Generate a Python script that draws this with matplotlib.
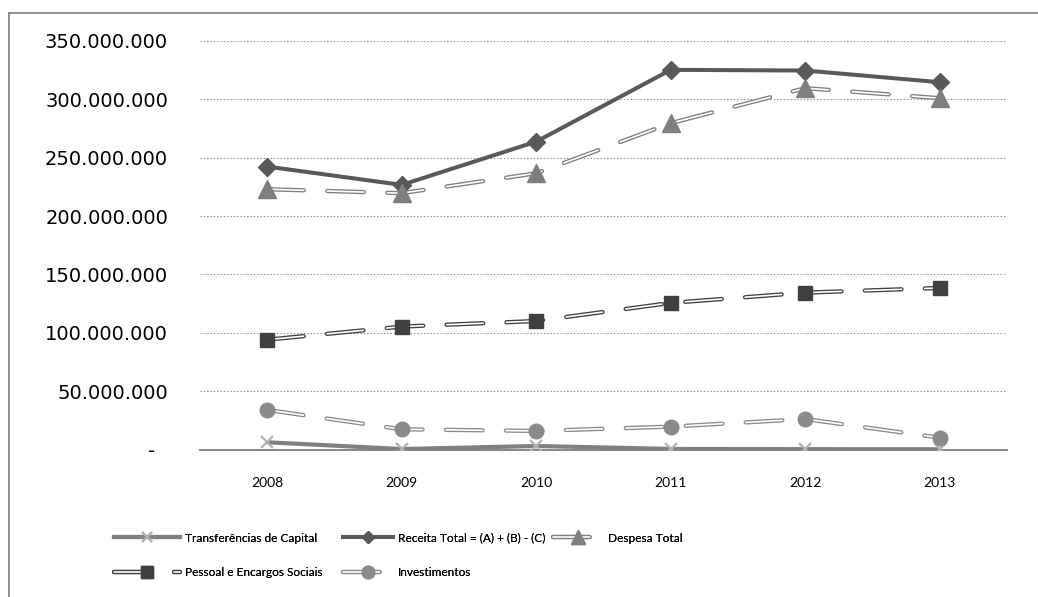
import matplotlib
matplotlib.use("Agg")
import matplotlib.pyplot as plt
from matplotlib.lines import Line2D
from matplotlib.legend_handler import HandlerTuple
from matplotlib import font_manager as fm

# ---------------- data ----------------
years = ["2008", "2009", "2010", "2011", "2012", "2013"]
transferencias = [6.2e6, 0.4e6, 3.0e6, 0.5e6, 0.3e6, 0.2e6]
receita = [242.4e6, 226.7e6, 263.8e6, 325.3e6, 324.7e6, 314.7e6]
despesa = [223.0e6, 219.6e6, 236.7e6, 279.6e6, 309.6e6, 301.0e6]
pessoal = [94.1e6, 105.3e6, 110.1e6, 125.6e6, 134.4e6, 138.4e6]
investimentos = [33.9e6, 17.3e6, 15.9e6, 19.6e6, 26.1e6, 10.1e6]
yticks = [0, 50e6, 100e6, 150e6, 200e6, 250e6, 300e6, 350e6]

labels = ["Transferências de Capital", "Receita Total = (A) + (B) - (C)",
          "Despesa Total", "Pessoal e Encargos Sociais", "Investimentos"]


def pick_font(cands):
    for c in cands:
        try:
            fm.findfont(fm.FontProperties(family=c), fallback_to_default=False)
            return c
        except Exception:
            pass
    return "DejaVu Sans"


narrow = pick_font(["Liberation Sans Narrow", "Lato", "Liberation Sans"])

plt.rcParams['lines.scale_dashes'] = False
plt.rcParams['font.family'] = ['DejaVu Sans']

W, H = 1038, 597
fig = plt.figure(figsize=(W / 100, H / 100), dpi=100)
ax = fig.add_axes([200 / W, 1 - 449.5 / H, 807 / W, (449.5 - 41) / H])

x = list(range(len(years)))
DASH = (0, (26.4, 16.8))

C_TR, C_TRM = '#808080', '#b3b3b3'
C_RE = '#595959'
C_DE = '#7f7f7f'
C_PE = '#404040'
C_IN = '#8a8a8a'


def double_line(vals, color, marker, ms, mcolor):
    ax.plot(x, vals, color=color, lw=3.1, linestyle=DASH,
            dash_capstyle='round', zorder=3)
    ax.plot(x, vals, color='white', lw=1.2, linestyle=DASH,
            dash_capstyle='round', zorder=3.1)
    ax.plot(x, vals, linestyle='none', marker=marker, ms=ms,
            color=mcolor, mec=mcolor, zorder=4)


# Transferências de Capital
ax.plot(x, transferencias, color=C_TR, lw=3.0, zorder=3, solid_joinstyle='round')
ax.plot(x, transferencias, linestyle='none', marker='x', ms=8, mew=1.6,
        color=C_TRM, zorder=4)
# Receita Total
ax.plot(x, receita, color=C_RE, lw=2.9, zorder=3.5,
        marker='D', ms=9, mfc=C_RE, mec=C_RE)
# Despesa Total
double_line(despesa, C_DE, '^', 13.5, C_DE)
# Pessoal
double_line(pessoal, C_PE, 's', 10, C_PE)
# Investimentos
double_line(investimentos, C_IN, 'o', 10.5, C_IN)

ax.set_xlim(-0.5, len(years) - 0.5)
ax.set_ylim(0, 350e6)
ax.set_xticks(x)
ax.set_xticklabels(years, fontfamily=narrow, fontsize=10)
ax.set_yticks(yticks)
ylabels = [("-  " if v == 0 else f"{int(v):,}".replace(",", ".")) for v in yticks]
ax.set_yticklabels(ylabels, fontfamily='DejaVu Sans', fontsize=14)
ax.tick_params(axis='y', length=0, pad=23)
ax.tick_params(axis='x', length=0, pad=20)

for s in ['left', 'right', 'top']:
    ax.spines[s].set_visible(False)
ax.spines['bottom'].set_color('#868686')
ax.spines['bottom'].set_linewidth(1.4)
ax.spines['bottom'].set_zorder(2.5)
ax.yaxis.grid(True, linestyle=(0, (1, 1.4)), color='#8c8c8c', lw=0.8)
ax.set_axisbelow(True)


# ---------------- legend ----------------
def dbl_handle(color, marker, ms):
    o = Line2D([], [], color=color, lw=3.1, linestyle=DASH, dash_capstyle='round')
    i = Line2D([], [], color='white', lw=1.2, linestyle=DASH, dash_capstyle='round')
    m = Line2D([], [], linestyle='none', marker=marker, ms=ms, color=color)
    return (o, i, m)


h_tr = (Line2D([], [], color=C_TR, lw=3.0),
        Line2D([], [], linestyle='none', marker='x', ms=7, mew=1.5, color=C_TRM))
h_re = Line2D([], [], color=C_RE, lw=2.9, marker='D', ms=6.5)
h_de = dbl_handle(C_DE, '^', 10)
h_pe = dbl_handle(C_PE, 's', 8.5)
h_in = dbl_handle(C_IN, 'o', 9)

FS = 8.6
FSPX = FS * 100 / 72
entries = [
    (h_tr, labels[0], 114, 538, 66),
    (h_re, labels[1], 343, 538, 50),
    (h_de, labels[2], 553, 538, 50),
    (h_pe, labels[3], 114, 573, 66),
    (h_in, labels[4], 343, 573, 50),
]
for h, lab, px, py, hl in entries:
    lg = fig.legend([h], [lab], loc='center left',
                    bbox_to_anchor=(px / W, 1 - py / H),
                    frameon=False, prop={'family': narrow, 'size': FS},
                    handlelength=hl / FSPX, handletextpad=5 / FSPX,
                    borderpad=0, borderaxespad=0, numpoints=1,
                    handler_map={tuple: HandlerTuple(ndivide=1, pad=0)})
    fig.add_artist(lg)

# figure border (left and top edges visible)
fig.add_artist(Line2D([9 / W, 9 / W], [0, 1 - 13 / H], transform=fig.transFigure,
                      color='#868686', lw=1.3))
fig.add_artist(Line2D([9 / W, 1], [1 - 13 / H, 1 - 13 / H], transform=fig.transFigure,
                      color='#868686', lw=1.3))

fig.savefig("out.png", dpi=100, facecolor='white')
